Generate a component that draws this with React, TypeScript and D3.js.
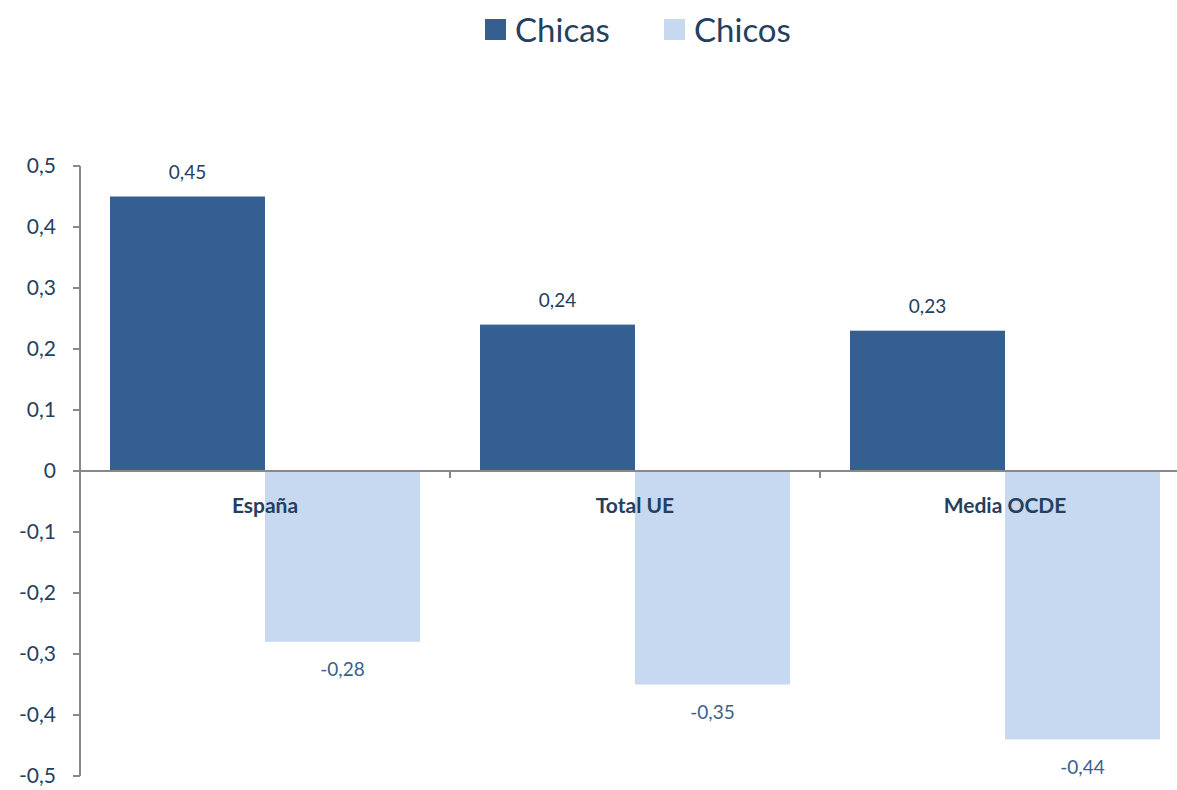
import React, { useEffect, useRef } from "react";
import * as d3 from "d3";

const categories = ["España", "Total UE", "Media OCDE"];
const chicas = [0.45, 0.24, 0.23];
const chicos = [-0.28, -0.35, -0.44];
const seriesNames = ["Chicas", "Chicos"];
const yTicks = [0.5, 0.4, 0.3, 0.2, 0.1, 0, -0.1, -0.2, -0.3, -0.4, -0.5];

const colors = ["#365F91", "#C6D9F1"];
const labelColors = ["#243F60", "#3A5F8F"];
const textColor = "#243F60";
const font = "Lato, 'Open Sans', sans-serif";

const fmt = (v: number) =>
  v === 0 ? "0" : d3.format(".2~f")(v).replace(".", ",").replace("\u2212", "-");

export default function App() {
  const width = 1177;
  const height = 790;
  const svgRef = useRef<SVGSVGElement>(null);

  useEffect(() => {
    const svg = d3.select(svgRef.current);
    svg.selectAll("*").remove();

    const left = 80;
    const right = 1190;
    const y = d3.scaleLinear().domain([-0.5, 0.5]).range([776, 166]);
    const x = d3.scaleBand<string>().domain(categories).range([left, right]);
    const inner = d3
      .scaleBand<string>()
      .domain(seriesNames)
      .range([30, x.bandwidth() - 30]);

    // axis line
    svg
      .append("line")
      .attr("x1", left)
      .attr("x2", left)
      .attr("y1", y(0.5))
      .attr("y2", y(-0.5))
      .attr("stroke", "#888")
      .attr("stroke-width", 2);

    yTicks.forEach((t) => {
      svg
        .append("line")
        .attr("x1", left - 7)
        .attr("x2", left)
        .attr("y1", y(t))
        .attr("y2", y(t))
        .attr("stroke", "#888")
        .attr("stroke-width", 2);
      svg
        .append("text")
        .attr("x", 56)
        .attr("y", y(t))
        .attr("dy", "0.35em")
        .attr("text-anchor", "end")
        .attr("font-family", font)
        .attr("font-size", 21)
        .attr("fill", textColor)
        .text(fmt(t));
    });

    const data = [chicas, chicos];
    data.forEach((vals, si) => {
      const g = svg.append("g");
      g.selectAll("rect")
        .data(vals)
        .enter()
        .append("rect")
        .attr("x", (_, i) => x(categories[i])! + inner(seriesNames[si])!)
        .attr("width", inner.bandwidth())
        .attr("y", (d) => Math.min(y(d), y(0)))
        .attr("height", (d) => Math.abs(y(d) - y(0)))
        .attr("fill", colors[si]);
      g.selectAll("text")
        .data(vals)
        .enter()
        .append("text")
        .attr("x", (_, i) => x(categories[i])! + inner(seriesNames[si])! + inner.bandwidth() / 2)
        .attr("y", (d) => (d >= 0 ? y(d) - 24 : y(d) + 28))
        .attr("dy", "0.35em")
        .attr("text-anchor", "middle")
        .attr("font-family", font)
        .attr("font-size", 19)
        .attr("fill", labelColors[si])
        .text((d) => fmt(d));
    });

    // zero line
    svg
      .append("line")
      .attr("x1", left)
      .attr("x2", right)
      .attr("y1", y(0))
      .attr("y2", y(0))
      .attr("stroke", "#888")
      .attr("stroke-width", 2);

    // category tick marks
    categories.forEach((c, i) => {
      if (i === 0) return;
      svg
        .append("line")
        .attr("x1", x(c)!)
        .attr("x2", x(c)!)
        .attr("y1", y(0))
        .attr("y2", y(0) + 7)
        .attr("stroke", "#888")
        .attr("stroke-width", 2);
    });

    svg
      .selectAll(".cat")
      .data(categories)
      .enter()
      .append("text")
      .attr("x", (d) => x(d)! + x.bandwidth() / 2)
      .attr("y", y(0) + 35)
      .attr("dy", "0.35em")
      .attr("text-anchor", "middle")
      .attr("font-family", font)
      .attr("font-weight", "bold")
      .attr("font-size", 21)
      .attr("fill", textColor)
      .text((d) => d);

    // legend
    const legendX = [485, 664];
    seriesNames.forEach((s, i) => {
      svg
        .append("rect")
        .attr("x", legendX[i])
        .attr("y", 19)
        .attr("width", 21)
        .attr("height", 21)
        .attr("fill", colors[i]);
      svg
        .append("text")
        .attr("x", legendX[i] + 30)
        .attr("y", 30)
        .attr("dy", "0.35em")
        .attr("font-family", font)
        .attr("font-size", 33)
        .attr("fill", textColor)
        .text(s);
    });
  }, []);

  return (
    <svg
      ref={svgRef}
      width={width}
      height={height}
      style={{ position: "absolute", left: 0, top: 0, background: "#fff" }}
    />
  );
}
